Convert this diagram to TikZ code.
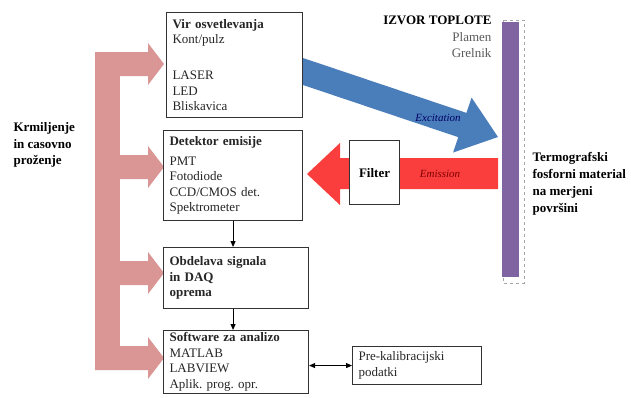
\documentclass[tikz,border=0pt]{standalone}
\usepackage{fontspec}
\setmainfont{Liberation Serif}
\usetikzlibrary{arrows.meta}
\definecolor{rozna}{RGB}{217,150,148}
\definecolor{modra}{RGB}{74,126,187}
\definecolor{rdeca}{RGB}{250,62,62}
\definecolor{vijola}{RGB}{128,100,162}
\frenchspacing
\tikzset{
  blok/.style={draw=black!80, line width=1.1pt, fill=white, align=left,
    inner xsep=6pt, inner ysep=2pt, anchor=north west, text=black!85,
    font=\fontsize{13}{15.5}\selectfont},
  tok/.style={-{Triangle[length=6pt,width=5pt]}, line width=1pt},
  napis/.style={font=\fontsize{11}{13}\selectfont\itshape},
}
\begin{document}
\begin{tikzpicture}[x=1pt,y=-1pt]
  \useasboundingbox (0,0) rectangle (631,397);
  % krmiljenje
  \fill[rozna] (95,52) rectangle (120,370);
  \fill[rozna] (95,52) -- (148,52) -- (148,43) -- (164,64) -- (148,85) -- (148,76) -- (95,76) -- cycle;
  \fill[rozna] (95,155) -- (148,155) -- (148,146) -- (164,167) -- (148,188) -- (148,179) -- (95,179) -- cycle;
  \fill[rozna] (95,261) -- (148,261) -- (148,252) -- (164,273) -- (148,294) -- (148,285) -- (95,285) -- cycle;
  \fill[rozna] (95,346) -- (148,346) -- (148,337) -- (164,358) -- (148,379) -- (148,370) -- (95,370) -- cycle;
  \node[anchor=west, align=left, font=\fontsize{13}{16.5}\selectfont\bfseries] (krm) at (10,145)
    {Krmiljenje\\in casovno\\proženje};
  % izvor toplote
  \draw[gray!70, dashed, line width=0.6pt] (503,20) rectangle (524,283);
  \node[fill=vijola, minimum width=17pt, minimum height=255pt, inner sep=0pt, anchor=north west] (plosca) at (502,22) {};
  \node[anchor=east, align=right, font=\fontsize{13}{16.5}\selectfont] (izvor) at (495,37)
    {\textbf{IZVOR TOPLOTE}\\\textcolor{black!65}{Plamen}\\\textcolor{black!65}{Grelnik}};
  \node[anchor=west, align=left, font=\fontsize{13}{16.8}\selectfont\bfseries] (fosfor) at (529,184)
    {Termografski\\fosforni material\\na merjeni\\površini};
  % excitation
  \begin{scope}[shift={(303,71.5)}, rotate=-18.57]
    \fill[modra] (-12,-12.8) -- (168.1,-12.8) -- (168.1,-29) -- (205.7,0) -- (168.1,29) -- (168.1,12.8) -- (-12,12.8) -- cycle;
  \end{scope}
  \node[napis, text=blue!40!black] (exc) at (438,118) {Excitation};
  % emission
  \fill[rdeca] (498,158) -- (340,158) -- (340,143) -- (307,174) -- (340,205) -- (340,189) -- (498,189) -- cycle;
  \node[napis, text=red!50!black] (emi) at (440,174) {Emission};
  \node[draw=black!80, line width=1.1pt, fill=white, minimum width=50pt, minimum height=64pt,
    anchor=north west, font=\fontsize{13}{15.5}\selectfont\bfseries] (filter) at (349,140) {Filter};
  % bloki
  \node[blok, text width=124pt, minimum height=105pt] (vir) at (166,12)
    {\textbf{Vir osvetlevanja}\\Kont/pulz\\[20pt]LASER\\LED\\Bliskavica};
  \node[blok, text width=127pt, minimum height=90pt] (det) at (163,130)
    {\textbf{Detektor emisije}\\[4pt]PMT\\Fotodiode\\CCD/CMOS det.\\Spektrometer};
  \node[blok, text width=133pt, minimum height=61pt] (obd) at (163,247)
    {\textbf{Obdelava signala}\\\textbf{in DAQ}\\\textbf{oprema}};
  \node[blok, text width=133pt, minimum height=63pt] (sw) at (163,330)
    {\textbf{Software za analizo}\\MATLAB\\LABVIEW\\Aplik. prog. opr.};
  \node[blok, text width=117pt, minimum height=38pt] (kal) at (352,346)
    {Pre-kalibracijski\\podatki};
  \draw[tok] (det.south) -- (det.south |- obd.north);
  \draw[tok] (det.south |- obd.south) -- (det.south |- sw.north);
  \draw[tok, {Triangle[length=6pt,width=5pt]}-{Triangle[length=6pt,width=5pt]}] (sw.east |- kal.west) -- (kal.west);
\end{tikzpicture}
\end{document}
